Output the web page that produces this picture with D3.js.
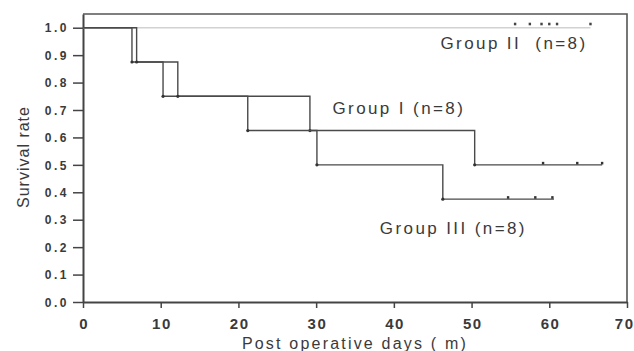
<!DOCTYPE html>
<html>
<head>
<meta charset="utf-8">
<script src="https://cdn.jsdelivr.net/npm/d3@7"></script>
<style>
  body { margin: 0; background: #fff; }
  text { font-family: "Liberation Sans", Arial, sans-serif; fill: #3a3a3a; }
</style>
</head>
<body>
<div id="chart"></div>
<script>
// Kaplan-Meier steps
const groupITimes = [0, 6.9, 12.2, 21.2, 50.4, 66.8];
const groupISurvival = [1.0, 0.875, 0.75, 0.625, 0.5, 0.5];
const groupICensored = [59.2, 63.6, 66.8];

const groupIIITimes = [0, 6.3, 10.3, 29.2, 30.1, 46.3, 60.6];
const groupIIISurvival = [1.0, 0.875, 0.75, 0.625, 0.5, 0.375, 0.375];
const groupIIICensored = [54.7, 58.2, 60.4];

const groupIITimes = [0, 65.3];
const groupIISurvival = [1.0, 1.0];
const groupIICensored = [55.6, 57.5, 59.0, 60.0, 61.0, 65.3];

const xTicks = [0, 10, 20, 30, 40, 50, 60, 70];
const yTicks = [0, 0.1, 0.2, 0.3, 0.4, 0.5, 0.6, 0.7, 0.8, 0.9, 1.0];

const labels = [
  { text: 'Group II  (n=8)', t: 46.0, s: 0.944 },
  { text: 'Group I (n=8)', t: 32.1, s: 0.707 },
  { text: 'Group III (n=8)', t: 38.2, s: 0.27 }
];

const width = 634, height = 351;
const margin = { top: 14, right: 7, bottom: 49, left: 83 };
const innerW = width - margin.left - margin.right;
const innerH = height - margin.top - margin.bottom;

const svg = d3.select('#chart').append('svg')
  .attr('width', width)
  .attr('height', height);

const g = svg.append('g')
  .attr('transform', `translate(${margin.left},${margin.top})`);

const x = d3.scaleLinear().domain([0, 70]).range([0, innerW]);
const y = d3.scaleLinear().domain([0, 1.05]).range([innerH, 0]);

// frame (top + right)
g.append('path')
  .attr('d', `M0,0H${innerW}V${innerH}`)
  .attr('fill', 'none')
  .attr('stroke', '#555')
  .attr('stroke-width', 1.6);

// axes
const xAxis = g.append('g')
  .attr('transform', `translate(0,${innerH})`)
  .call(d3.axisBottom(x).tickValues(xTicks).tickSize(6).tickPadding(10).tickSizeOuter(0));
const yAxis = g.append('g')
  .call(d3.axisLeft(y).tickValues(yTicks).tickFormat(d3.format('.1f')).tickSize(10).tickPadding(4).tickSizeOuter(0));

[xAxis, yAxis].forEach(ax => {
  ax.select('.domain').attr('stroke', '#444').attr('stroke-width', 2);
  ax.selectAll('.tick line').attr('stroke', '#444').attr('stroke-width', 1.5);
  ax.selectAll('.tick text')
    .style('font-family', '"Liberation Sans", Arial, sans-serif')
    .style('font-weight', 'bold')
    .attr('fill', '#5a5a5a');
});
xAxis.selectAll('.tick text')
  .style('font-size', '15px')
  .style('letter-spacing', '1.5px')
  .attr('dx', '0.75px');
// last label sits against the right edge
xAxis.selectAll('.tick text')
  .filter(d => d === 70)
  .attr('text-anchor', 'end')
  .attr('dx', '7px');
yAxis.selectAll('.tick text')
  .style('font-size', '12px')
  .style('letter-spacing', '2.5px')
  .attr('dy', '0.35em');

// axis titles
svg.append('text')
  .attr('x', margin.left + innerW / 2)
  .attr('y', 349)
  .attr('text-anchor', 'middle')
  .style('font-size', '16px')
  .style('letter-spacing', '2.2px')
  .text('Post operative days ( m)');

svg.append('text')
  .attr('transform', `translate(29,157) rotate(-90)`)
  .attr('text-anchor', 'middle')
  .style('font-size', '16px')
  .style('letter-spacing', '1px')
  .text('Survival rate');

const line = d3.line()
  .x(d => x(d[0]))
  .y(d => y(d[1]))
  .curve(d3.curveStepAfter);

function drawGroup(times, surv, censored, color, width, tickColor, offset) {
  const pts = times.map((t, i) => [t, surv[i]]);
  g.append('path')
    .datum(pts)
    .attr('d', line)
    .attr('fill', 'none')
    .attr('stroke', color)
    .attr('stroke-width', width);
  // dots at the foot of each drop
  g.selectAll(null)
    .data(pts.slice(1).filter((d, i) => surv[i + 1] < surv[i]))
    .enter().append('circle')
    .attr('cx', d => x(d[0]))
    .attr('cy', d => y(d[1]))
    .attr('r', 1.6)
    .attr('fill', '#333');
  // censor marks
  const last = surv[surv.length - 1];
  g.selectAll(null)
    .data(censored)
    .enter().append('rect')
    .attr('x', d => x(d) - 1.2)
    .attr('y', y(last) - 3 - offset)
    .attr('width', 2.4)
    .attr('height', 2.6)
    .attr('fill', tickColor);
}

drawGroup(groupIITimes, groupIISurvival, groupIICensored, '#d2d2d2', 1.4, '#444', 2);
drawGroup(groupIIITimes, groupIIISurvival, groupIIICensored, '#4a4a4a', 1.4, '#333', 0);
drawGroup(groupITimes, groupISurvival, groupICensored, '#4a4a4a', 1.4, '#333', 0);

// group labels
g.selectAll('.glabel')
  .data(labels)
  .enter().append('text')
  .attr('class', 'glabel')
  .attr('x', d => x(d.t))
  .attr('y', d => y(d.s))
  .attr('dy', '0.35em')
  .attr('text-anchor', 'start')
  .style('font-size', '17px')
  .style('letter-spacing', '2.4px')
  .style('white-space', 'pre')
  .attr('fill', '#444')
  .text(d => d.text);
</script>
</body>
</html>
